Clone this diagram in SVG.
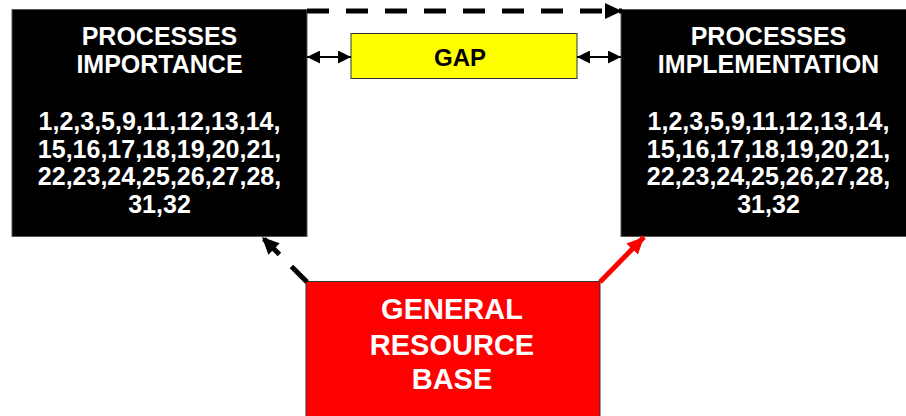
<svg xmlns="http://www.w3.org/2000/svg" width="906" height="416" viewBox="0 0 906 416">
<style>
.t{font-family:"Liberation Sans",Arial,sans-serif;font-weight:bold;text-anchor:middle}
.w{fill:#ffffff}
.k{fill:#000000}
.box{fill:#000000;stroke:#555555;stroke-width:1}
</style>
<defs>
<marker id="hk" markerUnits="userSpaceOnUse" markerWidth="18" markerHeight="16" refX="17" refY="8" orient="auto">
<path d="M0,0 L17,8 L0,16 Z" fill="#000"/>
</marker>
<marker id="hr" markerUnits="userSpaceOnUse" markerWidth="18" markerHeight="16" refX="17" refY="8" orient="auto">
<path d="M0,0 L17,8 L0,16 Z" fill="#ff0000"/>
</marker>
<marker id="hs" markerUnits="userSpaceOnUse" markerWidth="14" markerHeight="13" refX="13" refY="6.5" orient="auto-start-reverse">
<path d="M0,0 L13,6.5 L0,13 Z" fill="#000"/>
</marker>
</defs>
<g id="importance">
<rect class="box" x="12" y="9.5" width="295" height="227"/>
<text class="t w" font-size="25"><tspan x="159.5" y="45">PROCESSES</tspan><tspan x="159.5" y="72.5">IMPORTANCE</tspan><tspan x="159.5" y="130">1,2,3,5,9,11,12,13,14,</tspan><tspan x="159.5" y="157.5">15,16,17,18,19,20,21,</tspan><tspan x="159.5" y="185">22,23,24,25,26,27,28,</tspan><tspan x="159.5" y="212.5">31,32</tspan></text>
</g>
<g id="implementation">
<rect class="box" x="621" y="9.5" width="295" height="227"/>
<text class="t w" font-size="25"><tspan x="768.5" y="45">PROCESSES</tspan><tspan x="768.5" y="72.5">IMPLEMENTATION</tspan><tspan x="768.5" y="130">1,2,3,5,9,11,12,13,14,</tspan><tspan x="768.5" y="157.5">15,16,17,18,19,20,21,</tspan><tspan x="768.5" y="185">22,23,24,25,26,27,28,</tspan><tspan x="768.5" y="212.5">31,32</tspan></text>
</g>
<g id="gap">
<rect x="351" y="33.5" width="226" height="45" fill="#ffff00" stroke="#333333" stroke-width="1"/>
<text class="t k" x="460" y="66" font-size="24">GAP</text>
</g>
<g id="resource">
<rect x="306" y="281.5" width="294" height="150" fill="#ff0000" stroke="#333333" stroke-width="1"/>
<text class="t w" font-size="29"><tspan x="452" y="319">GENERAL</tspan><tspan x="452" y="355">RESOURCE</tspan><tspan x="452" y="389">BASE</tspan></text>
</g>
<g id="connectors">
<line x1="307" y1="11" x2="622" y2="11" stroke="#000" stroke-width="5" stroke-dasharray="22 17" marker-end="url(#hk)"/>
<line x1="307" y1="57" x2="351" y2="57" stroke="#000" stroke-width="2" marker-start="url(#hs)" marker-end="url(#hs)"/>
<line x1="577" y1="57" x2="621" y2="57" stroke="#000" stroke-width="2" marker-start="url(#hs)" marker-end="url(#hs)"/>
<line x1="307" y1="282" x2="262" y2="237" stroke="#000" stroke-width="5" stroke-dasharray="22 17" marker-end="url(#hk)"/>
<line x1="600" y1="282" x2="644" y2="237" stroke="#ff0000" stroke-width="5" marker-end="url(#hr)"/>
</g>
</svg>
